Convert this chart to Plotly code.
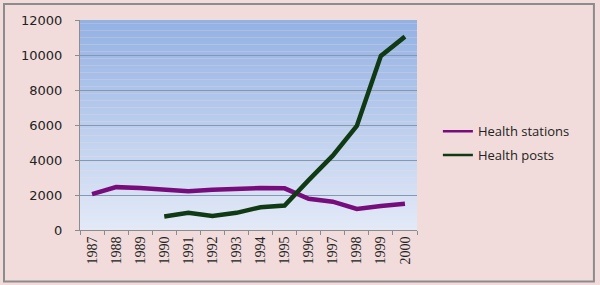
import plotly.graph_objects as go

years = ["1987", "1988", "1989", "1990", "1991", "1992", "1993", "1994", "1995", "1996", "1997", "1998", "1999", "2000"]
health_stations = [2050, 2450, 2400, 2300, 2220, 2300, 2370, 2400, 2380, 1780, 1620, 1200, 1370, 1500]
health_posts = [None, None, None, 770, 980, 800, 980, 1300, 1400, 2850, 4250, 5950, 9950, 11050]

names = ["Health stations", "Health posts"]
colors = ["#770D7C", "#0F3A14"]

fig = go.Figure()
for nm, vals, col in zip(names, [health_stations, health_posts], colors):
    fig.add_trace(go.Scatter(x=years, y=vals, mode="lines", name=nm, showlegend=False,
                             line=dict(color=col, width=4.5)))
# legend entries with thinner sample lines
for nm, col in zip(names, colors):
    fig.add_trace(go.Scatter(x=[None], y=[None], mode="lines", name=nm, showlegend=True,
                             legendgroup=nm, line=dict(color=col, width=2.5)))

# gradient plot background via bands
shapes = []
n = 60
top = (0x93, 0xB1, 0xE3)
bot = (0xE2, 0xEA, 0xF8)
for i in range(n):
    t = i / (n - 1)
    c = tuple(round(top[k] + (bot[k] - top[k]) * t) for k in range(3))
    y1 = 1 - i / n
    y0 = 1 - (i + 1) / n
    shapes.append(dict(type="rect", xref="paper", yref="paper", x0=0, x1=1, y0=y0, y1=y1,
                       fillcolor="rgb(%d,%d,%d)" % c, line=dict(width=0), layer="below"))
# outer border
shapes.append(dict(type="rect", xref="paper", yref="paper",
                   x0=-0.2255, x1=1.525, y0=-0.245, y1=1.076,
                   line=dict(color="#8C8C8C", width=2), fillcolor="rgba(0,0,0,0)", layer="above"))

fig.update_layout(
    width=600, height=285,
    margin=dict(l=80, r=183, t=20, b=55, autoexpand=False),
    paper_bgcolor="#F2DCDB",
    plot_bgcolor="rgba(0,0,0,0)",
    shapes=shapes,
    showlegend=True,
    legend=dict(x=1.062, y=0.542, xanchor="left", yanchor="top",
                bgcolor="rgba(0,0,0,0)", font=dict(family="Open Sans", size=13, color="#222"),
                itemwidth=30, tracegroupgap=4),
    xaxis=dict(type="category", tickson="boundaries", ticks="outside", ticklen=4,
               range=[-0.5, len(years) - 0.5],
               tickcolor="#8C8C8C", tickangle=-90, showgrid=False, showline=True,
               linecolor="#8C8C8C", linewidth=1, automargin=False,
               tickfont=dict(family="Liberation Serif", size=14, color="#222")),
    yaxis=dict(range=[0, 12000], dtick=2000, tickformat="d", ticks="outside", ticklen=4,
               ticklabelstandoff=10,
               tickcolor="#8C8C8C", automargin=False,
               showgrid=True, gridcolor="#8797B0", gridwidth=1, zeroline=False,
               showline=True, linecolor="#8C8C8C", linewidth=1,
               tickfont=dict(family="DejaVu Sans", size=13, color="#222")),
)

fig.write_html("out.html", config={"displayModeBar": False},
               post_script="document.body.style.margin='0';document.body.style.background='#F2DCDB';")
